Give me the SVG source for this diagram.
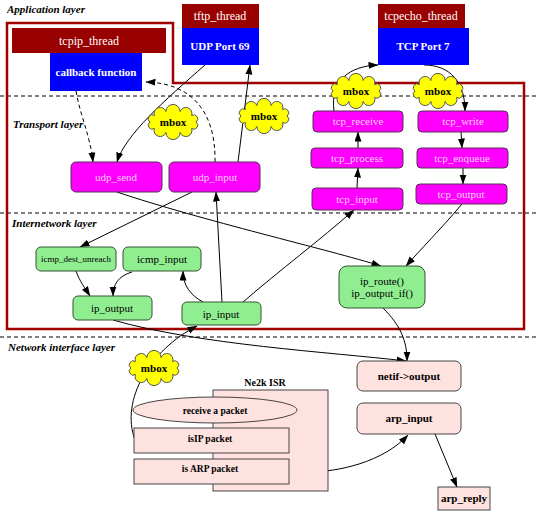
<svg xmlns="http://www.w3.org/2000/svg" width="536" height="511" viewBox="0 0 536 511">
<defs>
<marker id="arr" markerWidth="10" markerHeight="8" refX="9.5" refY="3.5" orient="auto" markerUnits="userSpaceOnUse">
<path d="M0,0 L10,3.5 L0,7 z" fill="#000"/>
</marker>
<path id="cloud" d="M23,0 A1,1 0 0 1 18.61,6.47 A1,1 0 0 1 7.11,10.46 A1,1 0 0 1 -7.11,10.46 A1,1 0 0 1 -18.61,6.47 A1,1 0 0 1 -23,0 A1,1 0 0 1 -18.61,-6.47 A1,1 0 0 1 -7.11,-10.46 A1,1 0 0 1 7.11,-10.46 A1,1 0 0 1 18.61,-6.47 A1,1 0 0 1 23,0 z"/>
<style>
text{font-family:"Liberation Serif","Times New Roman",serif;text-anchor:middle}
.layer{font-size:11px;font-style:italic;font-weight:bold;text-anchor:start}
.sep{stroke:#000;stroke-width:1;stroke-dasharray:4,3}
.frame{fill:none;stroke:#a00000;stroke-width:2.5}
.thr{fill:#990000}
.port{fill:#0000ff}
.wt{fill:#fff;font-size:12px}
.wb{fill:#fff;font-size:11px;font-weight:bold}
.mag{fill:#ff00ff;stroke:#553355;stroke-width:1}
.mt{fill:#ffd0ff;font-size:11px}
.grn{fill:#90ee90;stroke:#335533;stroke-width:1}
.gt{fill:#000;font-size:11px}
.pnk{fill:#fde2df;stroke:#444;stroke-width:1}
.pt{fill:#000;font-size:11px;font-weight:bold}
.st{fill:#000;font-size:9.5px;font-weight:bold}
.cl{fill:#ffff00;stroke:#555;stroke-width:1}
.ct{fill:#000;font-size:11px;font-weight:bold}
.c{fill:none;stroke:#000;stroke-width:1;marker-end:url(#arr)}
.d{stroke-dasharray:4,3}
</style>
</defs>
<rect width="536" height="511" fill="#fff"/>
<g id="layers">
<line class="sep" x1="0" y1="96" x2="536" y2="96"/>
<line class="sep" x1="0" y1="213" x2="536" y2="213"/>
<line class="sep" x1="0" y1="337" x2="536" y2="337"/>
<text class="layer" x="7" y="13">Application layer</text>
<text class="layer" x="13" y="128">Transport layer</text>
<text class="layer" x="12" y="227">Internetwork layer</text>
<text class="layer" x="8" y="351">Network interface layer</text>
<polygon class="frame" points="7,23 173,23 173,83 524,83 524,329 7,329"/>
</g>
<g id="connectors">
<path class="c d" d="M215,162 C216,110 190,83 146,82"/>
<path class="c d" d="M76,91 C80,115 90,135 93,162"/>
<path class="c" d="M205,65 C165,100 125,135 117,162"/>
<path class="c" d="M238,162 L250,65"/>
<path class="c" d="M334,111 C330,80 350,66 378,65"/>
<path class="c" d="M424,65 C450,65 465,82 465,111"/>
<path class="c" d="M357,188 L358,168"/>
<path class="c" d="M358,148 L358,132"/>
<path class="c" d="M461,132 L462,148"/>
<path class="c" d="M463,168 L463,184"/>
<path class="c" d="M462,204 C440,230 420,250 406,266"/>
<path class="c" d="M117,192 C200,220 330,250 381,266"/>
<path class="c" d="M192,192 L80,247"/>
<path class="c" d="M222,302 L216,192"/>
<path class="c" d="M203,302 C190,295 183,285 183,271"/>
<path class="c" d="M243,302 C280,270 320,240 354,210"/>
<path class="c" d="M76,271 C80,282 85,288 90,296"/>
<path class="c" d="M132,272 C118,276 113,285 113,296"/>
<path class="c" d="M113,320 C200,345 330,352 406,361"/>
<path class="c" d="M383,308 C400,325 407,340 407,361"/>
<path class="c" d="M135,440 C120,400 150,350 197,326"/>
<path class="c" d="M289,472 C340,475 385,460 408,435"/>
<path class="c" d="M435,434 L457,487"/>
</g>
<g id="tcpip_thread"><rect class="thr" x="12" y="28" width="154" height="25"/><text class="wt" x="89" y="45">tcpip_thread</text></g>
<g id="callback_function"><rect class="port" x="50" y="53" width="92" height="38"/><text class="wb" x="96" y="76">callback function</text></g>
<g id="tftp_thread"><rect class="thr" x="182" y="4" width="77" height="24"/><text class="wt" x="220" y="20">tftp_thread</text></g>
<g id="udp_port_69"><rect class="port" x="182" y="28" width="77" height="37"/><text class="wb" x="220" y="50">UDP Port 69</text></g>
<g id="tcpecho_thread"><rect class="thr" x="378" y="4" width="87" height="24"/><text class="wt" x="421" y="20">tcpecho_thread</text></g>
<g id="tcp_port_7"><rect class="port" x="378" y="28" width="91" height="37"/><text class="wb" x="423" y="50">TCP Port 7</text></g>
<g id="udp_send"><rect class="mag" x="71" y="162" width="91" height="30" rx="5"/><text class="mt" x="116" y="181">udp_send</text></g>
<g id="udp_input"><rect class="mag" x="169" y="162" width="91" height="30" rx="5"/><text class="mt" x="215" y="181">udp_input</text></g>
<g id="tcp_receive"><rect class="mag" x="313" y="111" width="90" height="21" rx="4"/><text class="mt" x="358" y="125">tcp_receive</text></g>
<g id="tcp_write"><rect class="mag" x="418" y="111" width="90" height="21" rx="4"/><text class="mt" x="463" y="125">tcp_write</text></g>
<g id="tcp_process"><rect class="mag" x="311" y="148" width="92" height="20" rx="4"/><text class="mt" x="357" y="162">tcp_process</text></g>
<g id="tcp_enqueue"><rect class="mag" x="417" y="148" width="91" height="20" rx="4"/><text class="mt" x="462" y="162">tcp_enqueue</text></g>
<g id="tcp_input"><rect class="mag" x="312" y="188" width="91" height="22" rx="4"/><text class="mt" x="357" y="203">tcp_input</text></g>
<g id="tcp_output"><rect class="mag" x="416" y="184" width="91" height="20" rx="4"/><text class="mt" x="461" y="198">tcp_output</text></g>
<g id="icmp_dest_unreach"><rect class="grn" x="36" y="247" width="80" height="24" rx="5"/><text class="gt" style="font-size:9px" x="76" y="262">icmp_dest_unreach</text></g>
<g id="icmp_input"><rect class="grn" x="123" y="247" width="78" height="24" rx="5"/><text class="gt" x="162" y="263">icmp_input</text></g>
<g id="ip_output"><rect class="grn" x="73" y="296" width="79" height="24" rx="5"/><text class="gt" x="112" y="312">ip_output</text></g>
<g id="ip_input"><rect class="grn" x="182" y="302" width="79" height="23" rx="5"/><text class="gt" x="221" y="318">ip_input</text></g>
<g id="ip_route"><rect class="grn" x="339" y="266" width="86" height="42" rx="8"/><text class="gt" x="382" y="285">ip_route()</text><text class="gt" x="382" y="297">ip_output_if()</text></g>
<g id="netif_output"><rect class="pnk" x="357" y="361" width="104" height="30" rx="6"/><text class="pt" x="409" y="380">netif-&gt;output</text></g>
<g id="arp_input"><rect class="pnk" x="357" y="403" width="104" height="31" rx="6"/><text class="pt" x="409" y="422">arp_input</text></g>
<g id="arp_reply"><rect class="pnk" x="438" y="487" width="52" height="23"/><text class="pt" x="464" y="502">arp_reply</text></g>
<g id="ne2k_isr">
<text class="pt" style="font-size:10px" x="265" y="386">Ne2k ISR</text>
<rect class="pnk" x="213" y="390" width="115" height="101"/>
<ellipse class="pnk" cx="215" cy="410" rx="82" ry="13"/><text class="st" x="215" y="414">receive a packet</text>
<rect class="pnk" x="134" y="428" width="155" height="25"/><text class="st" x="210" y="442">isIP packet</text>
<rect class="pnk" x="134" y="459" width="155" height="25"/><text class="st" x="210" y="472">is ARP packet</text>
</g>
<g id="mbox1"><use href="#cloud" class="cl" x="173" y="122"/><text class="ct" x="173" y="126">mbox</text></g>
<g id="mbox2"><use href="#cloud" class="cl" x="264" y="116"/><text class="ct" x="264" y="120">mbox</text></g>
<g id="mbox3"><use href="#cloud" class="cl" x="356" y="91"/><text class="ct" x="356" y="95">mbox</text></g>
<g id="mbox4"><use href="#cloud" class="cl" x="438" y="91"/><text class="ct" x="438" y="95">mbox</text></g>
<g id="mbox5"><use href="#cloud" class="cl" x="154" y="368"/><text class="ct" x="154" y="372">mbox</text></g>
</svg>
